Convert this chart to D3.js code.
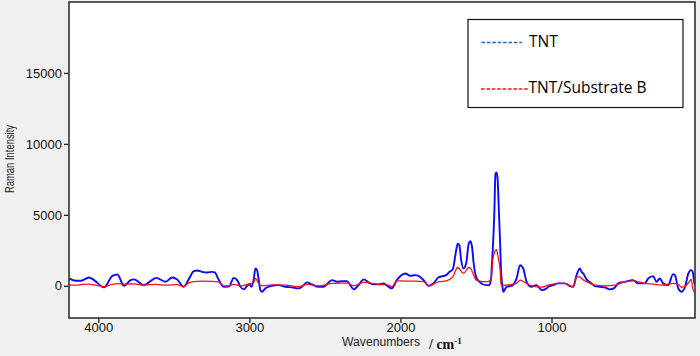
<!DOCTYPE html>
<html>
<head>
<meta charset="utf-8">
<script src="https://cdn.jsdelivr.net/npm/d3@7"></script>
<style>
  html, body { margin: 0; padding: 0; background: #f0f0f0; }
  svg { display: block; }
</style>
</head>
<body>
<svg id="chart" width="700" height="356"></svg>
<script>
// ---- Data ----
const xTicks = [4000, 3000, 2000, 1000];
const yTicks = [0, 5000, 10000, 15000];
const seriesNames = ["TNT", "TNT/Substrate B"];

const tntWavenumber = [4194,4149,4116,4061,4028,3962,3907,3874,3830,3786,3764,3698,3654,3617,3555,3511,3478,3434,3401,3368,3346,3313,3280,3247,3229,3202,3169,3136,3103,3081,3059,3037,3015,2999,2986,2971,2960,2949,2938,2927,2916,2894,2850,2806,2761,2718,2674,2652,2619,2586,2541,2508,2475,2453,2420,2387,2354,2332,2310,2277,2244,2211,2178,2145,2112,2079,2057,2024,1968,1935,1902,1880,1847,1814,1781,1748,1697,1676,1654,1631,1621,1610,1598,1583,1565,1548,1537,1526,1515,1499,1477,1433,1411,1400,1393,1389,1378,1371,1363,1356,1350,1340,1334,1323,1319,1297,1264,1231,1208,1187,1165,1132,1099,1066,1033,1021,988,955,911,878,856,834,812,801,790,768,735,713,680,647,614,580,559,514,460,427,383,360,327,305,283,261,228,195,183,161,139,116,94,76,65,54,50];
const tntIntensity = [519,351,351,589,400,-112,701,800,0,400,449,49,330,561,281,589,449,-70,470,1031,1080,982,940,982,940,400,-70,-60,561,400,-70,-252,0,98,-70,470,1220,1100,400,-300,-420,-182,0,49,-70,-112,-182,-70,238,98,-70,-70,238,400,281,330,330,49,-252,49,449,238,98,98,168,-70,-182,400,870,701,750,701,400,0,168,600,750,982,1150,2503,2973,2854,1802,1220,1571,2973,3135,2735,1571,631,281,49,49,519,1802,2503,5309,7883,7995,7413,5779,2973,1101,-182,-420,-70,0,519,1452,1220,281,-70,49,-300,-182,-70,49,168,168,-21,-70,750,1220,982,870,449,168,-21,-70,-112,-252,-112,168,281,400,168,168,519,680,281,519,168,49,820,750,-182,-420,-70,870,1101,982,168,100];

const subWavenumber = [4194,4149,4116,4061,4028,3962,3907,3874,3830,3764,3698,3617,3555,3478,3434,3401,3368,3313,3247,3202,3169,3136,3103,3059,3015,2971,2960,2938,2916,2850,2761,2674,2619,2541,2453,2387,2354,2310,2244,2145,2079,2057,2024,1968,1902,1847,1814,1748,1697,1654,1621,1610,1583,1548,1537,1515,1499,1433,1400,1389,1371,1363,1356,1340,1334,1297,1264,1231,1208,1187,1165,1132,1066,1021,955,911,856,834,812,801,768,713,647,580,514,460,383,327,261,195,161,139,94,76,65,50];
const subIntensity = [70,50,80,120,70,-60,100,150,120,130,50,100,40,80,-50,200,300,330,310,260,0,0,98,0,98,250,520,168,0,60,50,-70,98,0,168,190,190,0,238,98,50,-70,350,330,330,300,0,281,351,631,1290,1200,870,1290,1250,750,400,281,400,1802,2500,2553,2153,1101,49,49,100,168,400,300,168,0,-100,49,168,168,-70,631,631,519,281,49,0,49,281,351,168,120,49,168,100,-112,200,449,-182,-530];

// ---- Layout ----
const svg = d3.select("#chart");
const plot = { left: 69, right: 695, top: 2, bottom: 318 };

const x = d3.scaleLinear().domain([4194, 50]).range([plot.left, plot.right]);
const y = d3.scaleLinear().domain([-2270, 20000]).range([plot.bottom, plot.top]);

// plot background
svg.append("rect")
  .attr("x", plot.left).attr("y", plot.top)
  .attr("width", plot.right - plot.left).attr("height", plot.bottom - plot.top)
  .attr("fill", "#ffffff");

svg.append("clipPath").attr("id", "clip")
  .append("rect")
  .attr("x", plot.left).attr("y", plot.top)
  .attr("width", plot.right - plot.left).attr("height", plot.bottom - plot.top);

const line = d3.line()
  .x(d => x(d[0])).y(d => y(d[1]))
  .curve(d3.curveMonotoneX);

const tntData = tntWavenumber.map((w, i) => [w, tntIntensity[i]]);
const subData = subWavenumber.map((w, i) => [w, subIntensity[i]]);

const g = svg.append("g").attr("clip-path", "url(#clip)");
g.append("path").datum(tntData)
  .attr("d", line).attr("fill", "none")
  .attr("stroke", "#0a0aff").attr("stroke-width", 1.9)
  .attr("stroke-linejoin", "round");
g.append("path").datum(subData)
  .attr("d", line).attr("fill", "none")
  .attr("stroke", "#ff1010").attr("stroke-width", 1.3)
  .attr("stroke-linejoin", "round");

// axes
const fontAxis = "'Liberation Sans', Arial, sans-serif";
const xAxis = d3.axisBottom(x).tickValues(xTicks).tickSize(5).tickSizeOuter(0).tickFormat(d3.format("d"));
const yAxis = d3.axisLeft(y).tickValues(yTicks).tickSize(5).tickSizeOuter(0).tickFormat(d3.format("d"));

const gx = svg.append("g").attr("transform", `translate(0,${plot.bottom})`).call(xAxis);
const gy = svg.append("g").attr("transform", `translate(${plot.left},0)`).call(yAxis);
[gx, gy].forEach(a => {
  a.select(".domain").remove();
  a.selectAll(".tick line").attr("stroke", "#222").attr("stroke-width", 1.3);
  a.selectAll(".tick text").attr("fill", "#111")
    .style("font-family", fontAxis).style("font-size", "13px");
});
gx.selectAll(".tick text").attr("y", 4.5).attr("dy", "0.71em");
gy.selectAll(".tick text").attr("x", -7);

// frame
svg.append("rect")
  .attr("x", plot.left).attr("y", plot.top)
  .attr("width", plot.right - plot.left).attr("height", plot.bottom - plot.top)
  .attr("fill", "none").attr("stroke", "#333").attr("stroke-width", 1.6);

// axis titles
svg.append("text")
  .attr("transform", "translate(14,159) rotate(-90)")
  .attr("text-anchor", "middle")
  .attr("textLength", 68).attr("lengthAdjust", "spacingAndGlyphs")
  .style("font-family", fontAxis).style("font-size", "12px")
  .attr("fill", "#222")
  .text("Raman Intensity");

svg.append("text")
  .attr("x", 342).attr("y", 346)
  .attr("textLength", 78).attr("lengthAdjust", "spacingAndGlyphs")
  .style("font-family", fontAxis).style("font-size", "12px")
  .attr("fill", "#222")
  .text("Wavenumbers");

const unit = svg.append("text")
  .attr("x", 429).attr("y", 348.5)
  .style("font-family", "'Liberation Serif', 'Times New Roman', serif")
  .style("font-size", "14px").style("font-weight", "bold")
  .attr("fill", "#111");
unit.append("tspan").text("/ cm");
unit.append("tspan").attr("dy", -5).style("font-size", "9px").text("-1");

// legend
const lg = svg.append("g");
lg.append("rect")
  .attr("x", 468).attr("y", 19.5).attr("width", 215).attr("height", 88)
  .attr("fill", "#fff").attr("stroke", "#111").attr("stroke-width", 1.2);

const legendItems = [
  { name: seriesNames[0], color: "#1f64d0", x1: 481.5, x2: 522, ly: 42.5, tx: 529, ty: 46.5 },
  { name: seriesNames[1], color: "#ff1010", x1: 481, x2: 528, ly: 89, tx: 528.5, ty: 92.8 }
];
legendItems.forEach(it => {
  lg.append("line")
    .attr("x1", it.x1).attr("x2", it.x2).attr("y1", it.ly).attr("y2", it.ly)
    .attr("stroke", it.color).attr("stroke-width", 1.6)
    .attr("stroke-dasharray", "3.6,1.8");
  lg.append("text")
    .attr("x", it.tx).attr("y", it.ty)
    .style("font-family", "'Open Sans', sans-serif").style("font-size", "15.5px")
    .attr("fill", "#000")
    .text(it.name);
});
</script>
</body>
</html>
